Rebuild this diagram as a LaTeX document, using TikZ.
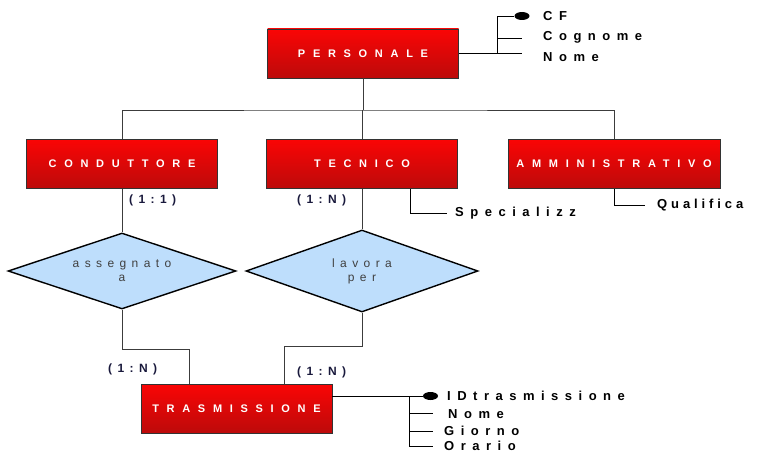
\documentclass[tikz,border=0pt]{standalone}
\usepackage{fontspec}
\setmainfont{Liberation Sans}
\newfontfamily\entityfont[LetterSpace=70]{Liberation Sans}
\newfontfamily\attrfont[LetterSpace=50]{Liberation Sans}
\newfontfamily\attrtightfont[LetterSpace=30]{Liberation Sans}
\newfontfamily\relfont[LetterSpace=45]{Liberation Sans}
\usetikzlibrary{shapes.geometric, positioning}
\definecolor{entitytop}{RGB}{250, 5, 5}
\definecolor{entitybottom}{RGB}{188, 10, 10}
\definecolor{relfill}{RGB}{190, 222, 252}
\definecolor{cardcolor}{RGB}{25, 25, 60}
\definecolor{linkcolor}{RGB}{60, 60, 60}

\begin{document}
\begin{tikzpicture}[x=1pt, y=-1pt,
  entity/.style={draw=black!80, line width=0.9pt, top color=entitytop,
    bottom color=entitybottom, minimum width=191pt, minimum height=49pt,
    inner sep=0pt, text=white, font=\entityfont\bfseries\fontsize{11}{13}\selectfont},
  relation/.style={diamond, aspect=3, draw=black, line width=1.4pt, fill=relfill,
    inner sep=0pt, align=center, text=black!75,
    font=\relfont\fontsize{12}{14}\selectfont},
  attr/.style={inner sep=0pt, anchor=west,
    font=\attrfont\bfseries\fontsize{13}{15}\selectfont},
  card/.style={inner sep=0pt, anchor=west, text=cardcolor,
    font=\relfont\bfseries\fontsize{12}{14}\selectfont},
  keydot/.style={ellipse, fill=black, minimum width=15pt, minimum height=8pt, inner sep=0pt},
  link/.style={draw=linkcolor, line width=0.9pt},
  stub/.style={draw=black, line width=0.9pt}]

  \useasboundingbox (0,0) rectangle (762,452);

  % Entities
  \node[entity] (personale) at (363,53.5) {PERSONALE};
  \node[entity] (conduttore) at (122,164) {CONDUTTORE};
  \node[entity] (tecnico) at (362,164) {TECNICO};
  \node[entity, minimum width=212pt] (amministrativo) at (614,164) {AMMINISTRATIVO};
  \node[entity] (trasmissione) at (236.5,408.5) {TRASMISSIONE};

  % Relations
  \node[relation, minimum width=228pt, minimum height=76pt] (assegnato) at (122,271)
    {assegnato\\a};
  \node[relation, minimum width=232pt, minimum height=82pt] (lavora) at (362,271)
    {lavora\\per};

  % Generalization
  \coordinate (hub) at (363,110);
  \draw[link] (personale.south) -- (hub);
  \draw[link] (conduttore.north) |- (hub) -| (amministrativo.north);
  \draw[link] (tecnico.north) -- (tecnico.north |- hub);

  % Relation links
  \coordinate (tinA) at ([xshift=-47.5pt]trasmissione.north);
  \coordinate (tinB) at ([xshift=47.5pt]trasmissione.north);
  \draw[link] (conduttore.south) -- (assegnato.north);
  \draw[link] (tecnico.south) -- (lavora.north);
  \draw[link] (assegnato.south) -- ++(0,40) -| (tinA);
  \draw[link] (lavora.south) -- ++(0,34) -| (tinB);

  % Cardinalities
  \node[card] (cardA) at (129,200) {(1:1)};
  \node[card] (cardB) at (297,200) {(1:N)};
  \node[card] (cardC) at (108,369) {(1:N)};
  \node[card] (cardD) at (297,372) {(1:N)};

  % Attributes of PERSONALE
  \node[keydot] (pkey) at (522,16) {};
  \node[attr] (pcf) at (543,16) {CF};
  \node[attr] (pcognome) at (543,37) {Cognome};
  \node[attr] (pnome) at (543,57) {Nome};
  \coordinate (pbranch) at (497,53.5);
  \coordinate (pstubA) at (522,38);
  \coordinate (pstubB) at (522,53.5);
  \draw[stub] (personale.east |- pbranch) -- (pstubB);
  \draw[stub] (pbranch) |- (pkey);
  \draw[stub] (pbranch |- pstubA) -- (pstubA);

  % Attributes of TECNICO and AMMINISTRATIVO
  \node[attr] (spec) at (455,213) {Specializz};
  \node[attr, font=\attrtightfont\bfseries\fontsize{13}{15}\selectfont] (qual)
    at (657,205) {Qualifica};
  \draw[stub] ([xshift=48pt]tecnico.south) |- ([xshift=-8pt]spec.west);
  \draw[stub] (amministrativo.south) |- ([xshift=-12pt]qual.west);

  % Attributes of TRASMISSIONE
  \node[keydot] (tkey) at (430.5,396) {};
  \node[attr] (tid) at (447,396) {IDtrasmissione};
  \node[attr] (tnome) at (448,414) {Nome};
  \node[attr] (tgiorno) at (444,431) {Giorno};
  \node[attr] (torario) at (444,446) {Orario};
  \coordinate (tbranch) at (409,396);
  \coordinate (tstubA) at (433,413);
  \coordinate (tstubB) at (433,431);
  \coordinate (tstubC) at (433,446);
  \draw[stub] (trasmissione.east |- tbranch) -- (tkey);
  \draw[stub] (tbranch) |- (tstubC);
  \draw[stub] (tbranch |- tstubA) -- (tstubA);
  \draw[stub] (tbranch |- tstubB) -- (tstubB);

\end{tikzpicture}
\end{document}
